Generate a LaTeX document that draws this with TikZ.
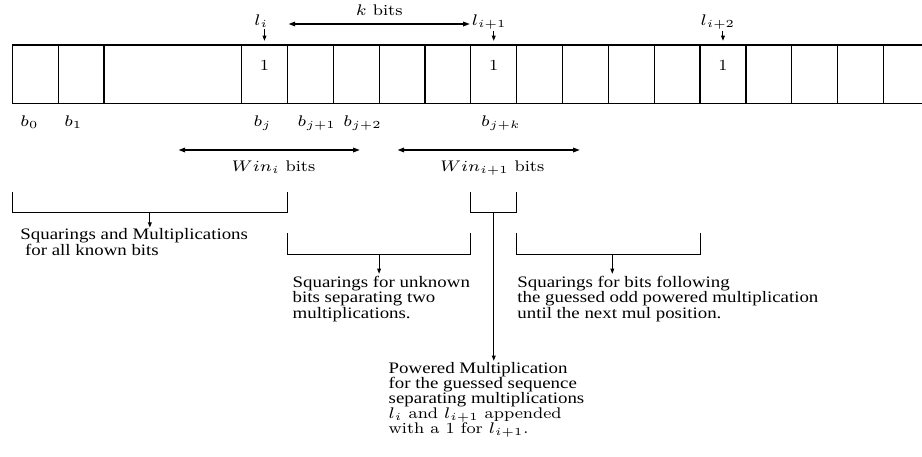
\RequirePackage{fix-cm}
\documentclass[tikz,border=0pt]{standalone}
\usepackage[no-math]{fontspec}
\usepackage{graphicx}
\usetikzlibrary{arrows.meta}
\newfontfamily\tms{Liberation Serif}[FakeStretch=1.18]
\newcommand{\hstr}[1]{\scalebox{1.12}[1]{#1}}
\lineskiplimit=-5pt
\tikzset{
  cell/.style={minimum width=22.925pt, minimum height=29.15pt, inner sep=0pt, outer sep=0pt},
  grid/.style={line width=0.6pt},
  lab/.style={inner sep=0pt, font={\fontsize{7.7}{9}\selectfont}},
  txt/.style={inner sep=0pt, align=left, anchor=north west, font={\tms\fontsize{8}{7.75}\selectfont}},
  txtb/.style={txt, font={\tms\fontsize{8}{7.4}\selectfont}},
  sarr/.style={line width=0.5pt, -{Triangle[length=2.6pt,width=1.9pt]}},
  darr/.style={line width=0.9pt, {Triangle[length=3.4pt,width=2.2pt]}-{Triangle[length=3.4pt,width=2.2pt]}},
  brk/.style={line width=0.5pt}
}
\begin{document}
\begin{tikzpicture}[x=0.5pt,y=-0.5pt]
\useasboundingbox (0,0) rectangle (922,456);
% cells
\node[cell] (c0) at (35.225,74.15) {};
\node[cell] (c1) at (81.075,74.15) {};
\node[cell, minimum width=68.775pt] (cw) at (172.8,74.15) {};
\foreach \n in {5,...,18} {
  \node[cell] (c\n) at ({35.225+45.85*\n},74.15) {};
}
\draw[grid] (c0.north west) -- (922,45);
\draw[grid] (c0.south west) -- (922,103.3);
\foreach \c in {c0,c1,cw,c5,c6,c7,c8,c9,c10,c11,c12,c13,c14,c15,c16,c17,c18} {
  \draw[grid] (\c.north west) -- (\c.south west);
}
\draw[grid] (c18.north east) -- (c18.south east);
% ones
\node[lab] (o5) at (c5 |- 0,65) {\hstr{1}};
\node[lab] (o10) at (c10 |- 0,65) {\hstr{1}};
\node[lab] (o15) at (c15 |- 0,65) {\hstr{1}};
% l labels
\node[lab, anchor=base] (li) at (261.3,25) {\hstr{$l_i$}};
\node[lab, anchor=base] (li1) at (489.2,25) {\hstr{$l_{i+1}$}};
\node[lab, anchor=base] (li2) at (717.8,25) {\hstr{$l_{i+2}$}};
\draw[sarr, shorten <=0.6pt, shorten >=2.1pt] (li.south -| c5.north) -- (c5.north);
\draw[sarr, shorten <=0.6pt, shorten >=2.1pt] (li1.south -| c10.north) -- (c10.north);
\draw[sarr, shorten <=0.6pt, shorten >=2.1pt] (li2.south -| c15.north) -- (c15.north);
% k bits
\coordinate (kl) at (288.3,24);
\coordinate (kr) at (470,24);
\draw[darr] (kl) -- (kr);
\node[lab, anchor=base] (kb) at (379.2,15.5) {\hstr{$k$ bits}};
% b labels
\node[lab, anchor=base] (b0) at (29.5,126.7) {\hstr{$b_0$}};
\node[lab, anchor=base] (b1) at (73.3,126.7) {\hstr{$b_1$}};
\node[lab, anchor=base] (bj) at (262.5,126.7) {\hstr{$b_j$}};
\node[lab, anchor=base] (bj1) at (316.7,126.7) {\hstr{$b_{j+1}$}};
\node[lab, anchor=base] (bj2) at (362.5,126.7) {\hstr{$b_{j+2}$}};
\node[lab, anchor=base] (bjk) at (500.8,126.7) {\hstr{$b_{j+k}$}};
% windows
\coordinate (w1l) at (178.3,150);
\coordinate (w1r) at (360,150);
\coordinate (w2l) at (397.3,150);
\coordinate (w2r) at (580,150);
\draw[darr] (w1l) -- (w1r);
\draw[darr] (w2l) -- (w2r);
\node[lab, anchor=base] (win1) at (273.5,171) {\hstr{$Win_i$ bits}};
\node[lab, anchor=base] (win2) at (492.2,171) {\hstr{$Win_{i+1}$ bits}};
% texts
\node[txt] (t1) at (20,228.1) {Squarings and Multiplications\\\ for all known bits};
\node[txt] (t2) at (292.3,275.8) {Squarings for unknown\\bits separating two\\multiplications.};
\node[txt] (t3) at (517,275.8) {Squarings for bits following\\the guessed odd powered multiplication\\until the next mul position.};
\node[txtb] (t4) at (388.3,362.4) {Powered Multiplication\\for the guessed sequence\\separating multiplications\\\hstr{\fontsize{7.7}{7.4}\rmfamily $l_i$ and $l_{i+1}$ appended}\\\hstr{\fontsize{7.7}{7.4}\rmfamily with a 1 for $l_{i+1}$.}};
% brackets
\draw[brk] (c0.west |- 0,192) -- (c0.west |- 0,212) -- (c6.west |- 0,212) -- (c6.west |- 0,192);
\draw[brk] (c6.west |- 0,233) -- (c6.west |- 0,254) -- (c10.west |- 0,254) -- (c10.west |- 0,233);
\draw[brk] (c10.west |- 0,192) -- (c10.west |- 0,212) -- (c11.west |- 0,212) -- (c11.west |- 0,192);
\draw[brk] (c11.west |- 0,233) -- (c11.west |- 0,254) -- (c15.west |- 0,254) -- (c15.west |- 0,233);
\coordinate (m1) at (149.85,212);
\coordinate (m2) at (379.1,254);
\coordinate (m3) at (493.75,212);
\coordinate (m4) at (612.3,254);
\draw[sarr, shorten >=0.3pt] (m1) -- (m1 |- t1.north);
\draw[sarr, shorten >=1pt] (m2) -- (m2 |- t2.north);
\draw[sarr, shorten >=0.8pt] (m3) -- (m3 |- t4.north);
\draw[sarr, shorten >=1pt] (m4) -- (m4 |- t3.north);
\end{tikzpicture}
\end{document}
